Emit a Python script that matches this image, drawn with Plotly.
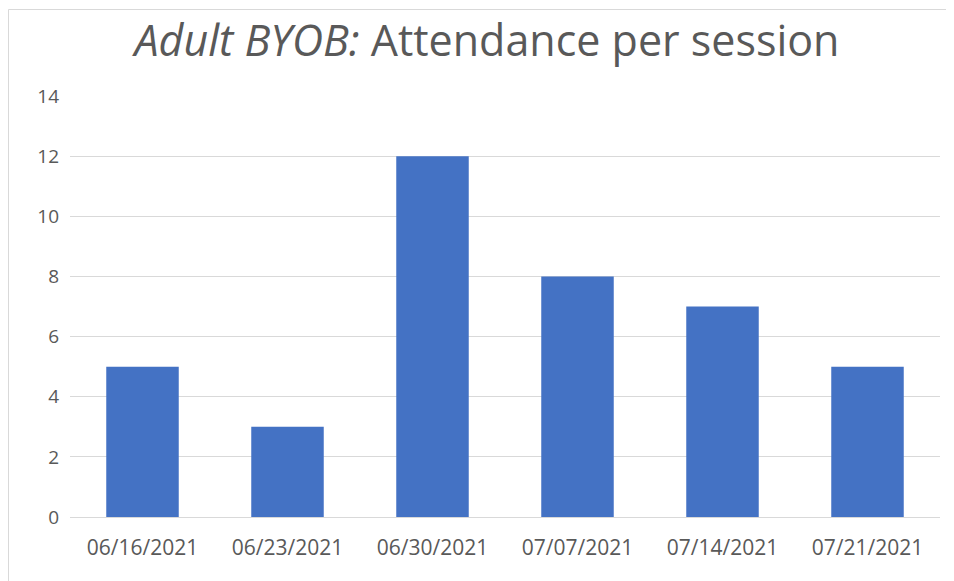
import plotly.graph_objects as go

dates = ["06/16/2021", "06/23/2021", "06/30/2021", "07/07/2021", "07/14/2021", "07/21/2021"]
attendance = [5, 3, 12, 8, 7, 5]
y_ticks = [0, 2, 4, 6, 8, 10, 12, 14]

fig = go.Figure(go.Bar(x=dates, y=attendance, marker=dict(color="#4472C4", line=dict(width=0)), width=0.5))

font_family = "Open Sans, Noto Sans, sans-serif"
W, H = 946, 573
ml, mr, mt, mb = 62, 14, 88, 64
pw, ph = W - ml - mr, H - mt - mb
fig.update_layout(
    width=W, height=H,
    margin=dict(l=ml, r=mr, t=mt, b=mb),
    paper_bgcolor="white", plot_bgcolor="white",
    title=dict(text="<i>Adult BYOB:</i> Attendance per session", x=(487 - 8) / W, xanchor="center",
               y=1 - 33 / H, yanchor="middle", font=dict(family=font_family, size=43, color="#595959")),
    showlegend=False,
    xaxis=dict(type="category", showgrid=False, showline=False, ticks="",
               tickfont=dict(family=font_family, size=21, color="#595959"), ticklabelstandoff=16),
    yaxis=dict(range=[0, 14], tickvals=y_ticks, showgrid=True, gridcolor="#D9D9D9", gridwidth=1,
               zeroline=True, zerolinecolor="#D9D9D9", zerolinewidth=1, showline=False, ticks="",
               tickfont=dict(family=font_family, size=19, color="#595959"), ticklabelstandoff=10),
    shapes=[
        dict(type="line", xref="paper", yref="paper", x0=-(ml - 0.5) / pw, x1=1 + mr / pw,
             y0=1 + (mt - 1.5) / ph, y1=1 + (mt - 1.5) / ph, line=dict(color="#D9D9D9", width=1)),
        dict(type="line", xref="paper", yref="paper", x0=-(ml - 0.5) / pw, x1=-(ml - 0.5) / pw,
             y0=-mb / ph, y1=1 + (mt - 1.5) / ph, line=dict(color="#D9D9D9", width=1)),
    ],
)

fig.write_html("out.html")
